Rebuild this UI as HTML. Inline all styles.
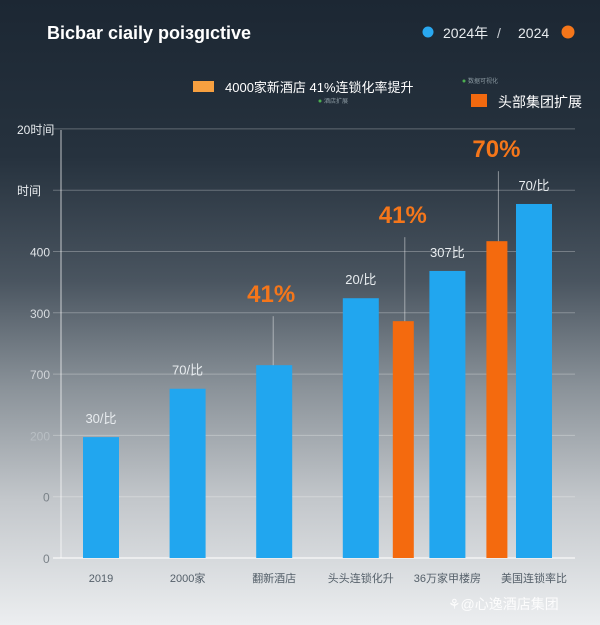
<!DOCTYPE html>
<html><head><meta charset="utf-8"><style>
body{margin:0;width:600px;height:625px;overflow:hidden;font-family:"Liberation Sans","Noto Sans CJK SC",sans-serif}
#bg{position:absolute;left:0;top:0;width:600px;height:625px;background:linear-gradient(to bottom,#1c2733 0%,#26323e 25%,#4a5560 45%,#8a9299 62%,#c3c7cb 80%,#eceef0 100%)}
</style></head><body>
<div id="bg"></div>
<svg id="c" width="600" height="625" style="position:absolute;left:0;top:0">
<text x="47" y="39" fill="#fff" font-size="18" font-weight="bold">Bicbar ciaily poiзgıctive</text>
<g>
<circle cx="428" cy="32" r="5.5" fill="#29a8f0"/>
<text x="443" y="38" fill="#e8ecef" font-size="14">2024年</text>
<text x="497" y="38" fill="#c9ced3" font-size="14">/</text>
<text x="518" y="38" fill="#e8ecef" font-size="14">2024</text>
<circle cx="568" cy="32" r="6.5" fill="#f5761a"/>
</g>
<g>
<rect x="193" y="81" width="21" height="11" fill="#f7a040"/>
<text x="225" y="92" fill="#fff" font-size="13">4000家新酒店 41%连锁化率提升</text>
<circle cx="320" cy="101" r="1.5" fill="#4caf50"/><text x="324" y="103" fill="#8a98a0" font-size="6">酒店扩展</text>
</g>
<g>
<circle cx="464" cy="81" r="1.5" fill="#4caf50"/><text x="468" y="83" fill="#8a98a0" font-size="6">数据可视化</text>
<rect x="471" y="94" width="16" height="13" fill="#f2690f"/>
<text x="498" y="107" fill="#fff" font-size="14">头部集团扩展</text>
</g>
<g id="grid"></g><g id="bars"></g><g id="labels"></g>
<text x="448" y="609" fill="#fff" font-size="14" opacity="0.9">⚘@心逸酒店集团</text>
</svg>
<script>
const categories=["2019","2000家","翻新酒店","头头连锁化升","36万家甲楼房","美国连锁率比"];
const blueValues=[195,273,311,419,463,571];
const orangeValues=[null,null,null,382,511,null];
const yTicks=["0","0","200","700","300","400","时间","20时间"];
const barLabels=["30/比","70/比","","20/比","307比","70/比"];
const pctLabels=[null,null,"41%","41%","70%",null];
const NS="http://www.w3.org/2000/svg";
const base=558,k=0.62,left=53,right=575;
const y=v=>base-v*k;
const bx=i=>83+i*86.6;
const tickColors=['#7a8288','#7a8288','#b8bec3','#d0d4d8','#d8dce0','#e0e4e8','#e8ecef','#e8ecef'];
function mk(t,a,p){const e=document.createElementNS(NS,t);for(const n in a)e.setAttribute(n,a[n]);p.appendChild(e);return e;}
const g=document.getElementById('grid'),b=document.getElementById('bars'),l=document.getElementById('labels');
yTicks.forEach((t,i)=>{const yy=base-i*61.3;
 const ln=mk('line',{x1:left,x2:right,y1:yy,y2:yy,stroke:i==0?'#f4f4f4':'rgba(255,255,255,0.28)','stroke-width':i==0?1.5:1},g);
 
 const tx=mk('text',{x:i>5?17:(i>1?30:43),y:yy+5,fill:tickColors[i],'font-size':12},g);tx.textContent=t;
 });
const ax=mk('line',{x1:left+8,x2:left+8,y1:130,y2:base,stroke:'rgba(255,255,255,0.7)'},g);

categories.forEach((c,i)=>{const x=bx(i);
 const r=mk('rect',{x:x,y:y(blueValues[i]),width:36,height:blueValues[i]*k,fill:'#21a6ef'},b);
 
 const t=mk('text',{x:x+18,y:582,fill:'#55606a','font-size':11,'text-anchor':'middle'},l);t.textContent=c;
 
 if(barLabels[i]){const bl=mk('text',{x:x+18,y:y(blueValues[i])-14,fill:'#e8ecef','font-size':13,'text-anchor':'middle'},l);bl.textContent=barLabels[i];
  }
 if(orangeValues[i]!=null){const ox=x+50+(i==4?7:0);
  const o=mk('rect',{x:ox,y:y(orangeValues[i]),width:21,height:orangeValues[i]*k,fill:'#f46a0e'},b);
  }
 if(pctLabels[i]){let cx,ty,top;
  if(i==2){cx=x+17;ty=y(blueValues[i])-63;top=y(blueValues[i]);}
  else{const ox=x+50+(i==4?7:0);cx=ox+12;ty=y(orangeValues[i])-98+(i==4?14:0);top=y(orangeValues[i]);}
  const ln=mk('line',{x1:cx,x2:cx,y1:ty+14,y2:top,stroke:'rgba(255,255,255,0.45)'},l);
  
  const p=mk('text',{x:cx-2,y:ty,fill:'#f5761a','font-size':24,'font-weight':'bold','text-anchor':'middle'},l);p.textContent=pctLabels[i];
  }
});
</script>
</body></html>
